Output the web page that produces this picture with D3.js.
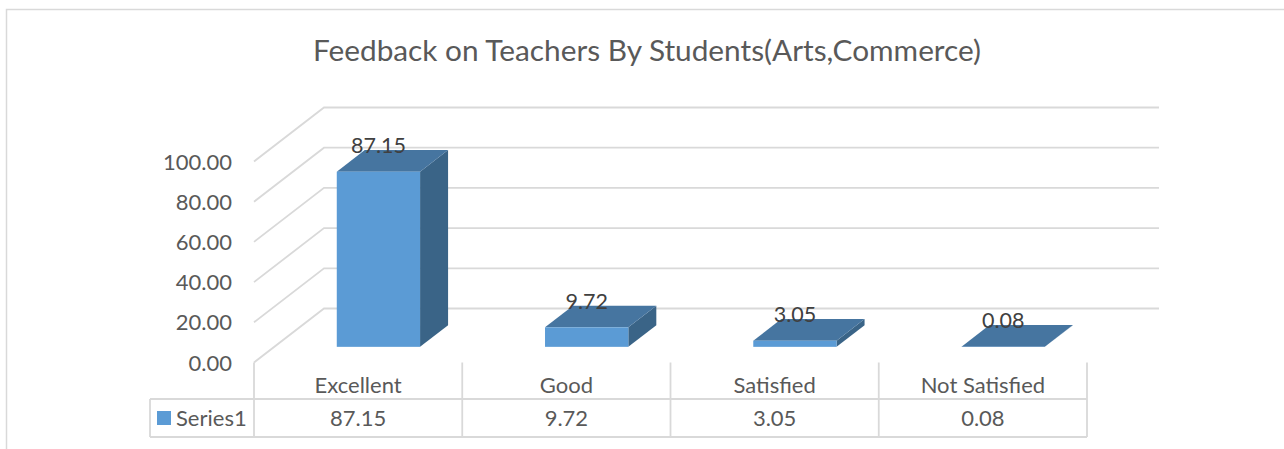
<!DOCTYPE html>
<html>
<head>
<meta charset="utf-8">
<script src="https://cdn.jsdelivr.net/npm/d3@7/dist/d3.min.js"></script>
<style>
  html, body { margin: 0; padding: 0; background: #fff; overflow: hidden; }
  svg { display: block; }
  text { font-family: Lato, "Open Sans", sans-serif; }
</style>
</head>
<body>
<div id="my_dataviz"></div>
<script>
var categories = ["Excellent", "Good", "Satisfied", "Not Satisfied"];
var values = [87.15, 9.72, 3.05, 0.08];
var yTicks = [0, 20, 40, 60, 80, 100];
var seriesName = "Series1";
var chartTitle = "Feedback on Teachers By Students(Arts,Commerce)";

var width = 1284, height = 449;
var gridColor = "#d9d9d9", labelColor = "#595959", dataLabelColor = "#404040";
var front = "#5b9bd5", topFace = "#4675a0", side = "#3a6487";

// full depth of the 3d floor, in pixels
var depthX = 70, depthY = -54;
// the bars sit between these fractions of the depth
var barZ0 = 0.29, barZ1 = 0.69;

var svg = d3.select("#my_dataviz").append("svg")
    .attr("width", width)
    .attr("height", height);

var x = d3.scaleBand().domain(categories).range([254, 1087]);
var y = d3.scaleLinear().domain([0, 100]).range([362.5, 161.5]);
var fmt = d3.format(".2f");

// chart area border, only left and top are in the picture
svg.append("path")
    .attr("d", d3.line()([[6.5, height], [6.5, 9.5], [width, 9.5]]))
    .attr("fill", "none")
    .attr("stroke", gridColor)
    .attr("stroke-width", 1.5);

svg.append("text")
    .attr("x", 647)
    .attr("y", 61)
    .attr("text-anchor", "middle")
    .attr("font-size", 29.8)
    .attr("fill", labelColor)
    .text(chartTitle);

// gridlines, side wall then back wall
var wall = d3.line();
svg.append("g").selectAll("path")
    .data(yTicks)
    .enter()
    .append("path")
    .attr("d", function (d) {
        var x0 = x.range()[0], x1 = x.range()[1];
        return wall([[x0, y(d)], [x0 + depthX, y(d) + depthY], [x1 + depthX + 2, y(d) + depthY]]);
    })
    .attr("fill", "none")
    .attr("stroke", gridColor)
    .attr("stroke-width", 1.8);

// y axis
var yAxis = svg.append("g")
    .attr("transform", "translate(232,0.5)")
    .call(d3.axisLeft(y).tickValues(yTicks).tickFormat(fmt).tickSize(0).tickPadding(0));
yAxis.select(".domain").remove();
yAxis.selectAll("text")
    .attr("font-size", 22)
    .attr("fill", labelColor)
    .style("font-family", "Lato, 'Open Sans', sans-serif");

// bars
var bar = svg.append("g").selectAll("g")
    .data(categories)
    .enter()
    .append("g");

function barGeom(d, i) {
    var base = y(0) + depthY * barZ0;
    var w = x.bandwidth() * 0.4;
    var left = x(d) + (x.bandwidth() - w) / 2 + depthX * barZ0;
    var h = y(0) - y(values[i]);
    return {
        left: left, right: left + w, base: base, top: base - h,
        dx: depthX * (barZ1 - barZ0), dy: depthY * (barZ1 - barZ0)
    };
}

bar.append("polygon")
    .attr("fill", side)
    .attr("points", function (d, i) {
        var g = barGeom(d, i);
        return [[g.right, g.base], [g.right + g.dx, g.base + g.dy], [g.right + g.dx, g.top + g.dy], [g.right, g.top]].join(" ");
    });
bar.append("polygon")
    .attr("fill", topFace)
    .attr("points", function (d, i) {
        var g = barGeom(d, i);
        return [[g.left, g.top], [g.left + g.dx, g.top + g.dy], [g.right + g.dx, g.top + g.dy], [g.right, g.top]].join(" ");
    });
bar.append("rect")
    .attr("fill", front)
    .attr("x", function (d, i) { return barGeom(d, i).left; })
    .attr("y", function (d, i) { return barGeom(d, i).top; })
    .attr("width", function (d, i) { var g = barGeom(d, i); return g.right - g.left; })
    .attr("height", function (d, i) { var g = barGeom(d, i); return g.base - g.top; });

// data labels
bar.append("text")
    .attr("x", function (d, i) { var g = barGeom(d, i); return (g.left + g.right) / 2; })
    .attr("y", function (d, i) { return barGeom(d, i).top - 18.5; })
    .attr("text-anchor", "middle")
    .attr("font-size", 21.5)
    .attr("fill", dataLabelColor)
    .text(function (d, i) { return fmt(values[i]); });

// data table under the plot
var tableTop = 399, tableBottom = 437, tableLeft = 150;
var table = svg.append("g")
    .attr("stroke", gridColor)
    .attr("stroke-width", 1.8);

table.selectAll("line.col")
    .data(x.domain().map(function (d) { return x(d); }).concat([x.range()[1]]))
    .enter()
    .append("line")
    .attr("class", "col")
    .attr("x1", function (d) { return d; })
    .attr("x2", function (d) { return d; })
    .attr("y1", y(0))
    .attr("y2", tableBottom);

table.selectAll("line.row")
    .data([tableTop, tableBottom])
    .enter()
    .append("line")
    .attr("class", "row")
    .attr("x1", tableLeft)
    .attr("x2", x.range()[1])
    .attr("y1", function (d) { return d; })
    .attr("y2", function (d) { return d; });

table.append("line")
    .attr("x1", tableLeft).attr("x2", tableLeft)
    .attr("y1", tableTop).attr("y2", tableBottom);

svg.append("g").selectAll("text")
    .data(categories)
    .enter()
    .append("text")
    .attr("x", function (d) { return x(d) + x.bandwidth() / 2; })
    .attr("y", 393)
    .attr("text-anchor", "middle")
    .attr("font-size", 22)
    .attr("fill", labelColor)
    .text(function (d) { return d; });

svg.append("g").selectAll("text")
    .data(values)
    .enter()
    .append("text")
    .attr("x", function (d, i) { return x(categories[i]) + x.bandwidth() / 2; })
    .attr("y", 426)
    .attr("text-anchor", "middle")
    .attr("font-size", 22)
    .attr("fill", labelColor)
    .text(function (d) { return fmt(d); });

svg.append("rect")
    .attr("x", 157).attr("y", 411)
    .attr("width", 14).attr("height", 14)
    .attr("fill", front);
svg.append("text")
    .attr("x", 176)
    .attr("y", 426)
    .attr("font-size", 22)
    .attr("fill", labelColor)
    .text(seriesName);
</script>
</body>
</html>
